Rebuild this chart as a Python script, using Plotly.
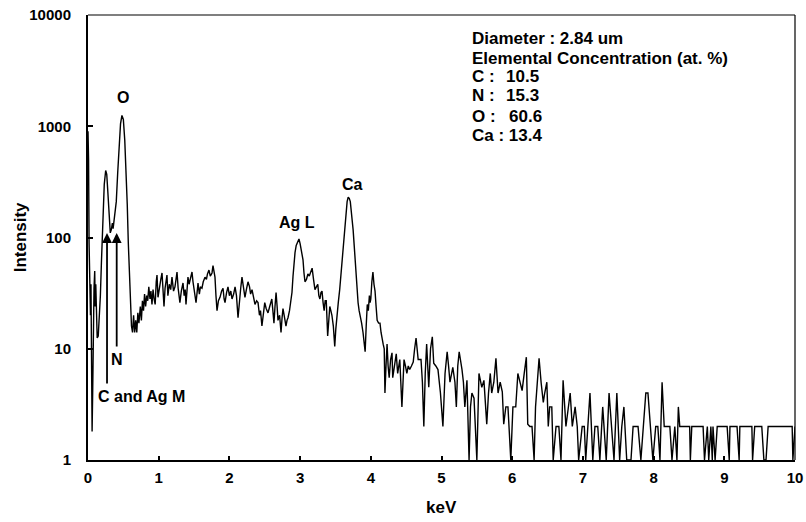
import plotly.graph_objects as go

# ---- data ----
kev = [
    0.000, 0.008, 0.015, 0.022, 0.028, 0.035, 0.042, 0.050, 0.058, 0.066,
    0.075, 0.085, 0.095, 0.102, 0.110, 0.120, 0.130, 0.145, 0.160, 0.175,
    0.190, 0.210, 0.230, 0.250, 0.265, 0.280, 0.300, 0.315, 0.330, 0.345,
    0.355, 0.370, 0.385, 0.400, 0.420, 0.440, 0.460, 0.480, 0.500, 0.520,
    0.540, 0.555, 0.570, 0.585, 0.600, 0.615, 0.630, 0.645, 0.660, 0.675,
    0.690, 0.705,
    0.72, 0.74, 0.755, 0.77, 0.785, 0.80, 0.815, 0.83, 0.845, 0.86,
    0.877, 0.89, 0.905, 0.92, 0.935, 0.95, 0.965, 0.976, 0.99, 1.01,
    1.03, 1.047, 1.06, 1.075, 1.09, 1.10, 1.117, 1.13, 1.15, 1.17,
    1.188, 1.21, 1.23, 1.245, 1.259, 1.275, 1.29, 1.30, 1.32, 1.344,
    1.36, 1.375, 1.386, 1.40, 1.414, 1.43, 1.45, 1.471, 1.485, 1.50,
    1.515, 1.528, 1.545, 1.556, 1.575, 1.59, 1.612, 1.63, 1.655, 1.675,
    1.69, 1.711, 1.73, 1.754, 1.768, 1.785, 1.796, 1.81, 1.825, 1.845,
    1.867, 1.89, 1.91, 1.925, 1.938, 1.96, 1.98, 2.00, 2.02, 2.037,
    2.06, 2.08, 2.10, 2.122, 2.14, 2.16, 2.178, 2.20, 2.22, 2.24,
    2.263, 2.285, 2.30, 2.32, 2.34, 2.362, 2.385, 2.405, 2.425, 2.44,
    2.46, 2.48, 2.50, 2.52, 2.546, 2.57, 2.60, 2.615, 2.63, 2.645,
    2.66, 2.675, 2.687, 2.71, 2.73, 2.745, 2.758, 2.78, 2.80, 2.815,
    2.829, 2.85, 2.87, 2.885, 2.90, 2.915, 2.928, 2.945, 2.965, 2.984,
    3.00, 3.02, 3.041, 3.055, 3.069,
    3.09, 3.11, 3.13, 3.15, 3.17, 3.19, 3.21, 3.23, 3.25, 3.265,
    3.28, 3.295, 3.31, 3.325, 3.34, 3.355, 3.37, 3.39, 3.405, 3.42,
    3.435, 3.45, 3.47, 3.49, 3.505, 3.52, 3.54, 3.56, 3.585, 3.61,
    3.63, 3.65, 3.665, 3.68, 3.695, 3.71, 3.73, 3.75, 3.765, 3.78,
    3.80, 3.82, 3.835, 3.85, 3.87, 3.89, 3.905, 3.92, 3.935, 3.95,
    3.965, 3.98, 3.99, 4.00, 4.015, 4.03, 4.045, 4.06, 4.075, 4.09,
    4.11, 4.13, 4.145, 4.16, 4.175, 4.19,
    4.20, 4.215, 4.23, 4.245, 4.26, 4.28, 4.30, 4.31, 4.335, 4.36,
    4.38, 4.395, 4.41, 4.44, 4.47, 4.49, 4.51, 4.53, 4.55, 4.575,
    4.60, 4.62, 4.64, 4.67, 4.71, 4.73, 4.75, 4.77, 4.79, 4.82,
    4.845, 4.87, 4.89, 4.92, 4.95, 4.985, 5.02, 5.05, 5.08, 5.10,
    5.12, 5.16, 5.19, 5.21, 5.23, 5.25, 5.27, 5.29, 5.31, 5.33,
    5.36, 5.39, 5.41, 5.43, 5.46, 5.48, 5.50, 5.53, 5.55, 5.57,
    5.60, 5.62, 5.64, 5.665, 5.69, 5.71, 5.74, 5.77, 5.80, 5.83,
    5.86, 5.88, 5.91, 5.94, 5.98, 6.01, 6.05, 6.08, 6.11, 6.14,
    6.17, 6.20, 6.22, 6.25, 6.28, 6.31, 6.33, 6.35, 6.38,
    6.41, 6.44, 6.46, 6.49, 6.51, 6.53, 6.56, 6.58, 6.62, 6.66,
    6.69, 6.72, 6.76, 6.79, 6.82, 6.85, 6.89, 6.92, 6.94, 6.99,
    7.02, 7.04, 7.07, 7.10, 7.14, 7.17, 7.21, 7.24, 7.28, 7.33,
    7.37, 7.41, 7.44, 7.48, 7.52, 7.55, 7.58, 7.62, 7.68, 7.71,
    7.78, 7.82, 7.85, 7.89, 7.92, 7.96, 7.99, 8.03, 8.06, 8.09,
    8.12, 8.15, 8.23, 8.26, 8.30, 8.33, 8.35, 8.37, 8.51, 8.52,
    8.54, 8.70, 8.72, 8.76, 8.78, 8.81, 8.83, 8.84, 8.87, 8.90,
    9.04, 9.07, 9.08, 9.18, 9.21, 9.22, 9.39, 9.40, 9.43, 9.53,
    9.56, 9.59, 9.62, 9.96, 9.97, 10.0,
]
counts = [
    900, 500, 90, 30, 46, 20, 38, 6, 1.8, 4,
    20, 35, 50, 24, 38, 18, 12.5, 13, 18, 30,
    60, 150, 300, 400, 370, 260, 150, 110, 118, 135,
    120, 150, 160, 210, 380, 700, 1050, 1250, 1150, 750,
    380, 200, 90, 45, 25, 16, 14, 20, 14, 18,
    14, 21,
    17, 24, 18, 27, 22, 31, 24, 30, 27, 36,
    28, 33, 25, 34, 28, 25, 40, 46, 29, 37,
    42, 48, 32, 24, 35, 40, 46, 30, 38, 34,
    44, 33, 36, 42, 49, 35, 30, 26, 33, 39,
    30, 34, 25, 35, 44, 38, 42, 49, 40, 34,
    30, 26, 33, 39, 31, 36, 35, 40, 44, 42,
    47, 51, 45, 48, 56, 50, 44, 30, 22, 27,
    29, 33, 35, 28, 26, 32, 36, 30, 33, 28,
    31, 36, 30, 19, 27, 35, 44, 35, 29, 34,
    40, 36, 31, 34, 29, 25, 27, 26, 20, 22,
    16, 22, 26, 23, 21, 24, 28, 22, 17, 24,
    32, 24, 18, 20, 14, 19, 23, 19, 16, 18,
    19, 22, 28, 32, 45, 60, 73, 85, 92, 97,
    88, 75, 63, 48, 40,
    42, 47, 45, 50, 53, 42, 34, 36, 38, 30,
    28, 32, 33, 26, 22, 27, 27, 13, 20, 24,
    22, 20, 16, 10.5, 15, 20, 26, 34, 55, 80,
    125, 170, 210, 230, 225, 210, 160, 117, 85, 60,
    38, 26, 22, 20, 17, 14, 11, 9.4, 16, 25,
    22, 30, 26, 28, 40, 49, 38, 33, 24, 18,
    17, 17, 14, 12, 11, 10,
    4, 7, 11, 7, 5.5, 8, 9.2, 5.5, 7, 9,
    6, 7, 8, 3, 8, 7, 6, 7, 6.5, 7,
    7.6, 10, 12.5, 8, 8, 5, 2, 6, 11, 4.5,
    10, 12.8, 7.4, 7, 6.5, 4, 2, 6, 9.4, 7,
    5, 6.8, 5, 3, 7, 9.4, 8, 6.5, 5, 3,
    5.2, 1, 3, 4, 3.6, 2, 1, 6, 5, 4.5,
    5.2, 3, 2.1, 4, 6, 4, 5, 8.2, 4, 5,
    4.1, 2.1, 3, 3, 1, 3, 3, 6, 5, 4.2,
    6, 8.4, 2.1, 2, 2, 1, 3, 4.5, 8.2,
    4.9, 3.3, 4, 5, 2, 3, 3, 1, 2, 2,
    1, 5.2, 2, 3, 4, 2, 3, 2, 1, 2,
    2, 1, 2, 4, 1, 2, 2, 1, 3, 1,
    4, 2, 1, 4, 1, 2, 3, 1, 1, 2,
    2, 1, 2, 4, 4, 2, 1, 2, 2, 1,
    5, 2, 2, 1, 2, 1, 3, 2, 2, 1,
    2, 2, 1, 2, 1, 2, 1, 2, 1, 2,
    2, 1, 2, 2, 1, 2, 2, 1, 2, 2,
    1, 1, 2, 2, 1, 2,
]

x_ticks = [0, 1, 2, 3, 4, 5, 6, 7, 8, 9, 10]
y_ticks = [1, 10, 100, 1000, 10000]
y_tick_text = ["1", "10", "100", "1000", "10000"]

peak_labels = ["O", "Ag L", "Ca", "N", "C and Ag M"]
peak_label_x = [0.495, 2.956, 3.748, 0.41, 0.113]
peak_label_logy = [3.254, 2.139, 2.472, 0.899, 0.575]

info_labels = ["Diameter : 2.84 um", "Elemental Concentration (at. %)",
               "C :", "N :", "O :", "Ca : 13.4"]
info_values = ["", "", "10.5", "15.3", "60.6", ""]

FONT = "Liberation Sans, Arial, sans-serif"

fig = go.Figure()
fig.add_trace(go.Scatter(x=kev, y=counts, mode="lines",
                         line=dict(color="black", width=1.4),
                         hoverinfo="skip", showlegend=False))

annotations = []
for t, px, py in zip(peak_labels, peak_label_x, peak_label_logy):
    annotations.append(dict(
        x=px, y=py, xref="x", yref="y", text=f"<b>{t}</b>", showarrow=False,
        xanchor="left" if t.startswith("C and") else "center",
        font=dict(family=FONT, size=16, color="black")))

for hx, tail in [(0.269, 0.674), (0.406, 1.007)]:
    annotations.append(dict(
        x=hx, y=2.04, ax=hx, ay=tail, xref="x", yref="y", axref="x", ayref="y",
        text="", showarrow=True, arrowhead=2, arrowsize=1.1, arrowwidth=1.8,
        arrowcolor="black", standoff=0, startstandoff=0))

info_y = [3.793, 3.613, 3.443, 3.272, 3.092, 2.921]
value_x = [None, None, 5.89, 5.89, 5.92, None]
for lab, val, yy, vx in zip(info_labels, info_values, info_y, value_x):
    annotations.append(dict(
        x=5.41, y=yy, xref="x", yref="y", text=f"<b>{lab}</b>", showarrow=False,
        xanchor="left", font=dict(family=FONT, size=17, color="black")))
    if val:
        annotations.append(dict(
            x=vx, y=yy, xref="x", yref="y", text=f"<b>{val}</b>", showarrow=False,
            xanchor="left", font=dict(family=FONT, size=17, color="black")))

annotations.append(dict(x=-0.095, y=0.5, xref="paper", yref="paper",
                        xanchor="center", yanchor="middle",
                        text="<b>Intensity</b>", textangle=-90, showarrow=False,
                        font=dict(family=FONT, size=17, color="black")))
annotations.append(dict(x=0.5, y=-0.106, xref="paper", yref="paper",
                        xanchor="center", yanchor="middle",
                        text="<b>keV</b>", showarrow=False,
                        font=dict(family=FONT, size=17, color="black")))

fig.update_layout(
    width=806, height=522,
    margin=dict(l=88, r=11, t=15, b=62, autoexpand=False),
    paper_bgcolor="white", plot_bgcolor="white",
    font=dict(family=FONT, color="black"),
    annotations=annotations,
    shapes=[
        dict(type="line", xref="paper", yref="paper", x0=0, x1=1, y0=1, y1=1,
             line=dict(color="black", width=1.2)),
        dict(type="line", xref="paper", yref="paper", x0=1, x1=1, y0=0, y1=1,
             line=dict(color="black", width=1.2)),
    ],
    xaxis=dict(range=[0, 10], tickvals=x_ticks, automargin=False,
               ticktext=[f"<b>{v}</b>" for v in x_ticks],
               showgrid=False, zeroline=False, showline=True, linecolor="black",
               linewidth=2, ticks="inside", ticklen=4, tickwidth=1.5,
               tickcolor="black", ticklabelstandoff=3,
               tickfont=dict(family=FONT, size=15, color="black")),
    yaxis=dict(type="log", range=[0, 4], tickvals=y_ticks, automargin=False,
               ticktext=[f"<b>{t}</b>" for t in y_tick_text],
               showgrid=False, zeroline=False, showline=True, linecolor="black",
               linewidth=2, ticks="inside", ticklen=5, tickwidth=1.5,
               tickcolor="black", ticklabelstandoff=12,
               tickfont=dict(family=FONT, size=15, color="black")),
)

fig.write_html("out.html")
